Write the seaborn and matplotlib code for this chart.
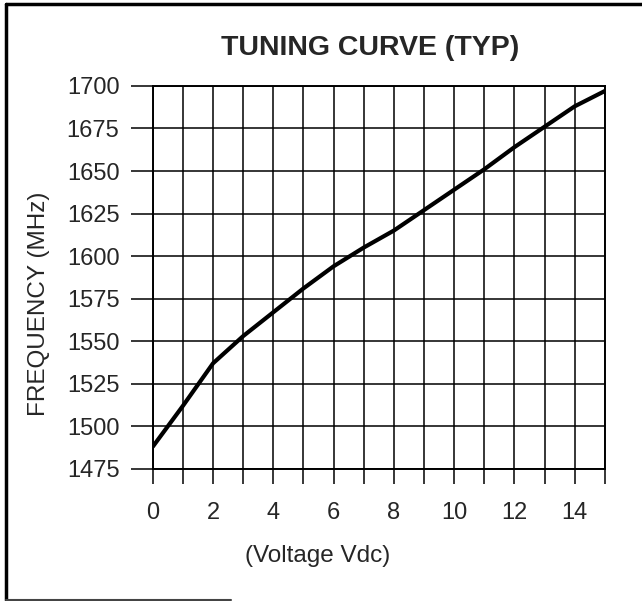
# Tuning curve (typical) - frequency vs tuning voltage
import numpy as np
import pandas as pd
import matplotlib
matplotlib.use('Agg')
import matplotlib.pyplot as plt
import seaborn as sns
from matplotlib.lines import Line2D

# values
voltage = [0, 1, 2, 3, 4, 5, 6, 7, 8, 9, 10, 11, 12, 13, 14, 15]
frequency = [1488, 1512, 1537, 1553, 1567, 1581, 1594, 1605, 1615, 1627,
             1639, 1651, 1664, 1676, 1688, 1697]
x_ticks = [0, 2, 4, 6, 8, 10, 12, 14]
y_ticks = [1475, 1500, 1525, 1550, 1575, 1600, 1625, 1650, 1675, 1700]

df = pd.DataFrame({'voltage': voltage, 'frequency': frequency})

sns.set_style('ticks')
plt.rcParams['font.family'] = ['Liberation Sans', 'DejaVu Sans']

fig = plt.figure(figsize=(6.42, 6.01), dpi=100)
ax = fig.add_axes([0.238, 0.22, 0.704, 0.637])

sns.lineplot(data=df, x='voltage', y='frequency', color='black', linewidth=3, ax=ax)

ax.set_xlim(0, 15)
ax.set_ylim(1475, 1700)
ax.set_xticks(x_ticks)
ax.set_xticks(range(0, 16), minor=True)
ax.set_yticks(y_ticks)
ax.set_xticklabels([str(t) for t in x_ticks], fontsize=17)
ax.set_yticklabels([str(t) for t in y_ticks], fontsize=17)
ax.grid(True, which='both', color='black', linewidth=1.1)
ax.tick_params(axis='x', which='both', length=11, width=1.1, color='black', pad=13)
ax.tick_params(axis='y', which='both', length=16, width=1.1, color='black', pad=8)
ax.tick_params(axis='y', which='minor', length=0)
for s in ax.spines.values():
    s.set_color('black')
    s.set_linewidth(1.4)

ax.set_title('TUNING CURVE (TYP)', fontsize=20.5, fontweight='bold', pad=22, x=0.48)
ax.set_xlabel('(Voltage Vdc)', fontsize=17.5)
ax.set_ylabel('FREQUENCY (MHz)', fontsize=17.5)
ax.xaxis.set_label_coords((318 - 153) / 452, -0.2)
ax.yaxis.set_label_coords(-0.228, 0.43)

# outer frame of the datasheet figure (open on the right)
fig.add_artist(Line2D([0.009, 0.009], [0.002, 0.993], color='black', lw=2.5, transform=fig.transFigure))
fig.add_artist(Line2D([0.009, 1.0], [0.993, 0.993], color='black', lw=2.5, transform=fig.transFigure))
fig.add_artist(Line2D([0.009, 0.36], [0.002, 0.002], color='#444444', lw=1.5, transform=fig.transFigure))

plt.savefig('out.png', dpi=100)
